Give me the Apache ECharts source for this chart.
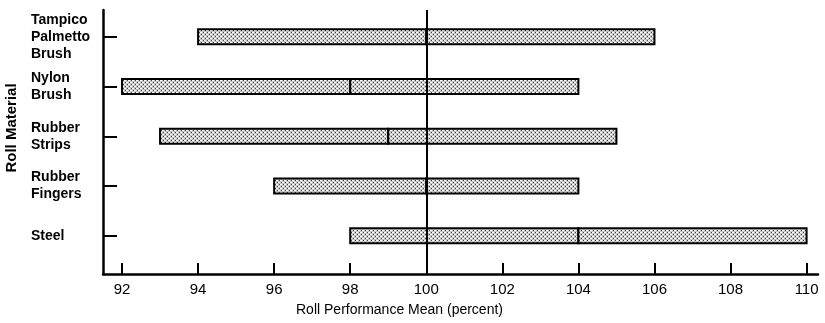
<!DOCTYPE html>
<html>
<head>
<meta charset="utf-8">
<script src="https://cdn.jsdelivr.net/npm/echarts@6/dist/echarts.min.js"></script>
<style>
html,body{margin:0;padding:0;background:#fff;}
#chart{width:825px;height:323px;}
</style>
</head>
<body>
<div id="chart"></div>
<script>
// ---- data ----
var categories = ["Tampico\nPalmetto\nBrush", "Nylon\nBrush", "Rubber\nStrips", "Rubber\nFingers", "Steel"];
var lowValues  = [94, 92, 93, 96, 98];
var meanValues = [100, 98, 99, 100, 104];
var highValues = [106, 104, 105, 104, 110];
var xTickLabels = [92, 94, 96, 98, 100, 102, 104, 106, 108, 110];
var referenceValue = 100;
var xAxisTitle = "Roll Performance Mean (percent)";
var yAxisTitle = "Roll Material";

// ---- dotted fill pattern ----
function makePattern() {
  var c = document.createElement('canvas');
  c.width = 4; c.height = 4;
  var g = c.getContext('2d');
  g.fillStyle = '#c4c4c4';
  g.fillRect(0, 0, 4, 4);
  g.fillStyle = '#ffffff';
  g.fillRect(0, 0, 2, 1);
  g.fillRect(2, 2, 2, 1);
  g.fillStyle = '#444444';
  g.fillRect(3, 0, 1, 1);
  g.fillRect(1, 2, 1, 1);
  return c;
}
var pattern = { image: makePattern(), repeat: 'repeat' };

// category rows are placed at positions 1..n (top to bottom)
var rowPos = categories.map(function (c, i) { return i + 1; });
var seriesData = categories.map(function (c, i) {
  return [rowPos[i], lowValues[i], meanValues[i], highValues[i]];
});

var Y_MIN = 0.46, Y_MAX = 5.77;
var TICK_UNITS = 0.22; // inward tick length on the x axis, in row units

var markLines = [{ xAxis: referenceValue }].concat(xTickLabels.map(function (v) {
  return [{ coord: [v, Y_MAX] }, { coord: [v, Y_MAX - TICK_UNITS] }];
}));

var chart = echarts.init(document.getElementById('chart'), null, { renderer: 'canvas' });
chart.setOption({
  animation: false,
  backgroundColor: '#ffffff',
  grid: { left: 103, right: 7, top: 10, bottom: 49, containLabel: false, outerBoundsMode: 'none' },
  xAxis: {
    type: 'value',
    min: 91.5,
    max: 110.3,
    axisLine: { show: true, lineStyle: { color: '#000', width: 2.5 } },
    axisTick: { show: true, inside: true, length: 11, customValues: xTickLabels, lineStyle: { color: '#000', width: 2 } },
    axisLabel: { customValues: xTickLabels, color: '#000', fontFamily: 'Liberation Sans', fontSize: 15, margin: 8 },
    splitLine: { show: false },
    name: xAxisTitle,
    nameLocation: 'middle',
    nameGap: 29,
    nameTextStyle: { color: '#000', fontFamily: 'Liberation Sans', fontSize: 14, padding: [0, 122, 0, 0] }
  },
  yAxis: {
    type: 'value',
    inverse: true,
    min: Y_MIN,
    max: Y_MAX,
    axisLine: { show: true, lineStyle: { color: '#000', width: 2.5 } },
    axisTick: { show: true, inside: true, length: 14, customValues: rowPos, lineStyle: { color: '#000', width: 2 } },
    axisLabel: {
      customValues: rowPos,
      formatter: function (v) { return categories[Math.round(v) - 1] || ''; },
      align: 'left',
      margin: 72,
      color: '#000',
      fontFamily: 'Liberation Sans',
      fontWeight: 'bold',
      fontSize: 14,
      lineHeight: 17
    },
    splitLine: { show: false },
    name: yAxisTitle,
    nameLocation: 'middle',
    nameGap: 84,
    nameTextStyle: { color: '#000', fontFamily: 'Liberation Sans', fontWeight: 'bold', fontSize: 15, padding: [0, 0, 0, 28] }
  },
  series: [{
    type: 'custom',
    data: seriesData,
    encode: { x: [1, 2, 3], y: 0 },
    renderItem: function (params, api) {
      var y = api.value(0);
      var pLow = api.coord([api.value(1), y]);
      var pMean = api.coord([api.value(2), y]);
      var pHigh = api.coord([api.value(3), y]);
      var h = 15;
      var style = { fill: pattern, stroke: '#000', lineWidth: 2 };
      return {
        type: 'group',
        children: [
          { type: 'rect', shape: { x: pLow[0], y: pLow[1] - h / 2, width: pMean[0] - pLow[0], height: h }, style: style },
          { type: 'rect', shape: { x: pMean[0], y: pMean[1] - h / 2, width: pHigh[0] - pMean[0], height: h }, style: style }
        ]
      };
    },
    markLine: {
      silent: true,
      symbol: 'none',
      label: { show: false },
      lineStyle: { color: '#000', width: 2, type: 'solid' },
      data: markLines
    },
    z: 2
  }]
});
</script>
</body>
</html>
